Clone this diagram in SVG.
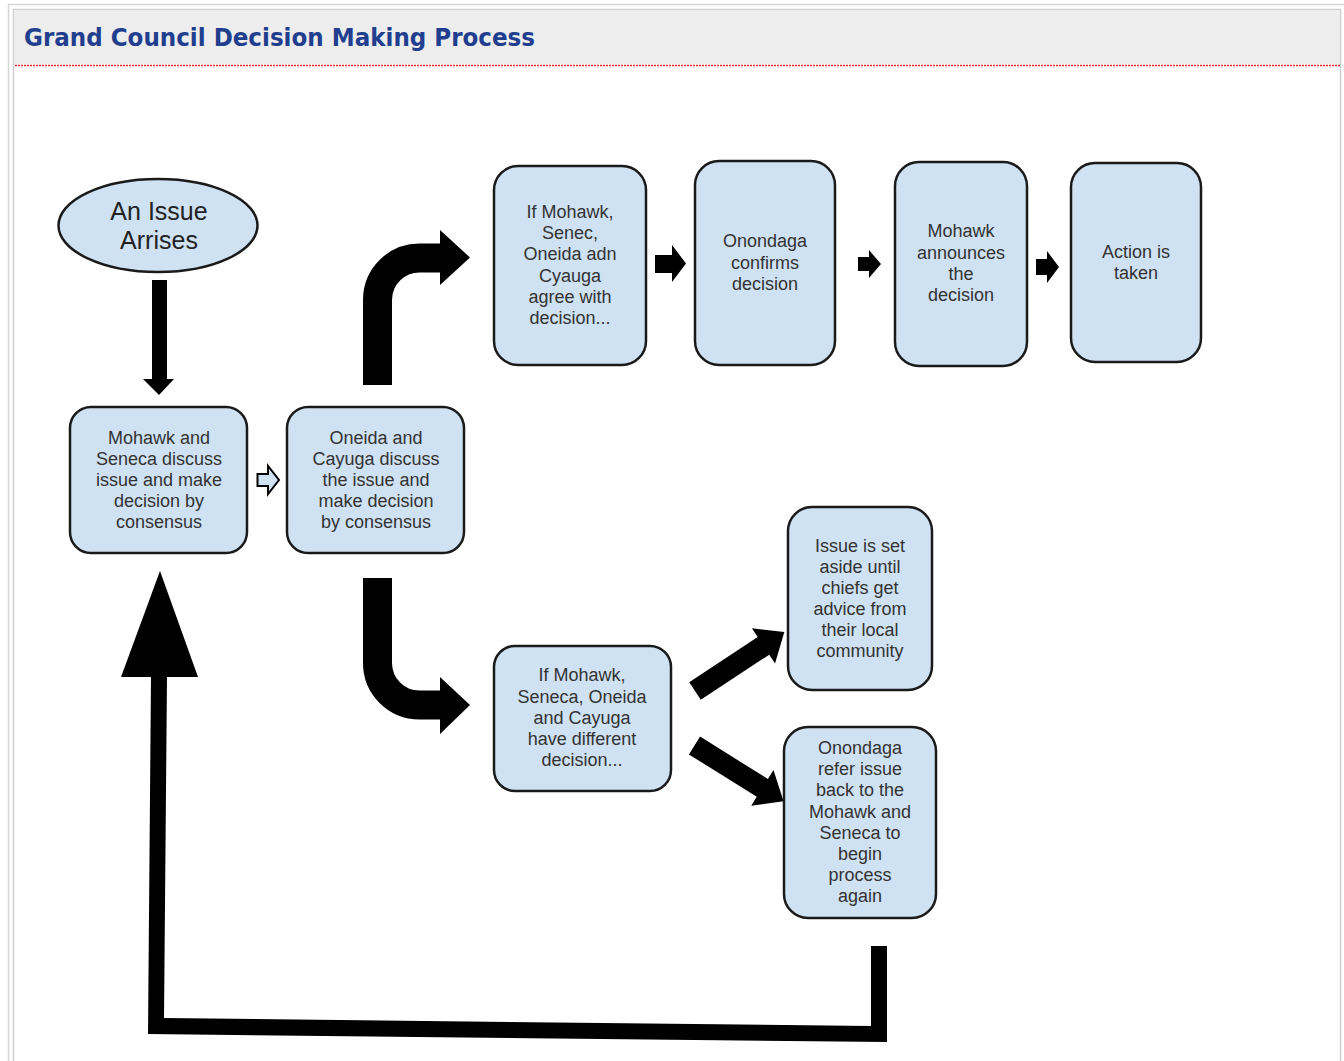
<svg xmlns="http://www.w3.org/2000/svg" width="1344" height="1061" viewBox="0 0 1344 1061">
<style>
.box{fill:#cfe2f3;stroke:#1a1a1a;stroke-width:2.5}
.t{font-family:"Liberation Sans",Arial,sans-serif;font-size:18px;fill:#333;text-anchor:middle}
.big{font-family:"Liberation Sans",Arial,sans-serif;font-size:25px;fill:#222;text-anchor:middle}
.blk{fill:#000}
</style>
<rect x="0" y="0" width="1344" height="1061" fill="#fff"/>
<line x1="8" y1="4.5" x2="1344" y2="4.5" stroke="#d6d6d6" stroke-width="1.5"/>
<line x1="8.5" y1="4" x2="8.5" y2="1061" stroke="#d6d6d6" stroke-width="1.5"/>
<rect x="13.5" y="9.5" width="1327" height="1060" fill="#fff" stroke="#cfcfcf" stroke-width="1.5"/>
<rect x="14" y="10" width="1326" height="54" fill="#ededed"/>
<line x1="15" y1="65.5" x2="1341" y2="65.5" stroke="#e02a2a" stroke-width="1.4" stroke-dasharray="2 1"/>
<text x="24" y="46" font-family="DejaVu Sans,Verdana,sans-serif" font-weight="bold" font-size="25" fill="#213f8e" textLength="511" lengthAdjust="spacingAndGlyphs">Grand Council Decision Making Process</text>

<g id="connectors">
  <polygon class="blk" points="152,280 167,280 167,379 174,379 159,395 143,379 152,379"/>
  <polygon points="257.5,474 268,474 268,466 279,480 268,494 268,486 257.5,486" fill="#cfe2f3" stroke="#000" stroke-width="2"/>
  <path d="M377.5,385 V300 A42,42 0 0 1 419.5,258 H441" fill="none" stroke="#000" stroke-width="29"/>
  <polygon class="blk" points="440,230 470,257.5 440,285"/>
  <path d="M377.5,578 V663 A42,42 0 0 0 419.5,705 H441" fill="none" stroke="#000" stroke-width="29"/>
  <polygon class="blk" points="440,677 470,705 440,734"/>
  <polygon class="blk" points="655,255 672,255 672,245 686,263.5 672,282 672,273 655,273"/>
  <polygon class="blk" points="858,257 869,257 869,250 881,264 869,278 869,271 858,271"/>
  <polygon class="blk" points="1036,259 1047,259 1047,251 1059,267 1047,283 1047,275 1036,275"/>
  <polygon class="blk" transform="translate(695,691) rotate(-33.4)" points="0,-10.5 82,-10.5 82,-21 107,0 82,21 82,10.5 0,10.5"/>
  <polygon class="blk" transform="translate(694.5,745.5) rotate(32)" points="0,-10.5 80,-10.5 80,-21 105,0 80,21 80,10.5 0,10.5"/>
  <polygon class="blk" points="151,677 148,1034 887,1042 887,946 871,946 871,1026 164,1018 167,677"/>
  <polygon class="blk" points="121,677 198,677 160,571"/>
</g>

<g id="n-issue">
  <ellipse cx="158" cy="225.5" rx="99.5" ry="46.5" class="box"/>
  <text class="big" x="159" y="220">An Issue</text>
  <text class="big" x="159" y="249">Arrises</text>
</g>
<g id="n-mohawk-seneca">
  <rect x="70" y="407" width="177" height="146" rx="21" class="box"/>
  <text class="t" x="159" y="444">Mohawk and</text>
  <text class="t" x="159" y="465">Seneca discuss</text>
  <text class="t" x="159" y="486">issue and make</text>
  <text class="t" x="159" y="507">decision by</text>
  <text class="t" x="159" y="528">consensus</text>
</g>
<g id="n-oneida-cayuga">
  <rect x="287" y="407" width="177" height="146" rx="21" class="box"/>
  <text class="t" x="376" y="444">Oneida and</text>
  <text class="t" x="376" y="465">Cayuga discuss</text>
  <text class="t" x="376" y="486">the issue and</text>
  <text class="t" x="376" y="507">make decision</text>
  <text class="t" x="376" y="528">by consensus</text>
</g>
<g id="n-agree">
  <rect x="494" y="166" width="152" height="199" rx="24" class="box"/>
  <text class="t" x="570" y="218">If Mohawk,</text>
  <text class="t" x="570" y="239">Senec,</text>
  <text class="t" x="570" y="260">Oneida adn</text>
  <text class="t" x="570" y="282">Cyauga</text>
  <text class="t" x="570" y="303">agree with</text>
  <text class="t" x="570" y="324">decision...</text>
</g>
<g id="n-confirms">
  <rect x="695" y="161" width="140" height="204" rx="24" class="box"/>
  <text class="t" x="765" y="247">Onondaga</text>
  <text class="t" x="765" y="269">confirms</text>
  <text class="t" x="765" y="290">decision</text>
</g>
<g id="n-announces">
  <rect x="895" y="162" width="132" height="204" rx="24" class="box"/>
  <text class="t" x="961" y="237">Mohawk</text>
  <text class="t" x="961" y="259">announces</text>
  <text class="t" x="961" y="280">the</text>
  <text class="t" x="961" y="301">decision</text>
</g>
<g id="n-action">
  <rect x="1071" y="163" width="130" height="199" rx="24" class="box"/>
  <text class="t" x="1136" y="258">Action is</text>
  <text class="t" x="1136" y="279">taken</text>
</g>
<g id="n-different">
  <rect x="494" y="646" width="177" height="145" rx="21" class="box"/>
  <text class="t" x="582" y="681">If Mohawk,</text>
  <text class="t" x="582" y="703">Seneca, Oneida</text>
  <text class="t" x="582" y="724">and Cayuga</text>
  <text class="t" x="582" y="745">have different</text>
  <text class="t" x="582" y="766">decision...</text>
</g>
<g id="n-setaside">
  <rect x="788" y="507" width="144" height="183" rx="24" class="box"/>
  <text class="t" x="860" y="552">Issue is set</text>
  <text class="t" x="860" y="573">aside until</text>
  <text class="t" x="860" y="594">chiefs get</text>
  <text class="t" x="860" y="615">advice from</text>
  <text class="t" x="860" y="636">their local</text>
  <text class="t" x="860" y="657">community</text>
</g>
<g id="n-refer">
  <rect x="784" y="727" width="152" height="191" rx="24" class="box"/>
  <text class="t" x="860" y="754">Onondaga</text>
  <text class="t" x="860" y="775">refer issue</text>
  <text class="t" x="860" y="796">back to the</text>
  <text class="t" x="860" y="818">Mohawk and</text>
  <text class="t" x="860" y="839">Seneca to</text>
  <text class="t" x="860" y="860">begin</text>
  <text class="t" x="860" y="881">process</text>
  <text class="t" x="860" y="902">again</text>
</g>
</svg>
